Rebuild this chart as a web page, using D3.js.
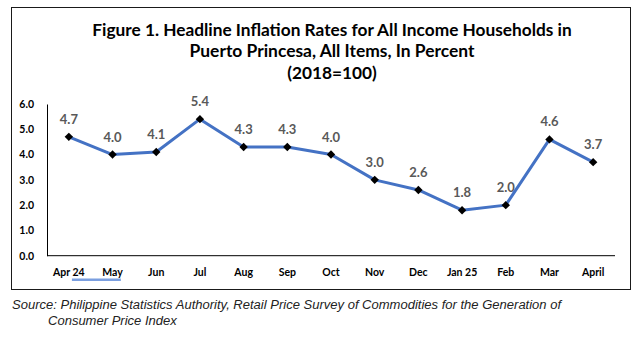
<!DOCTYPE html>
<html><head><meta charset="utf-8">
<script src="https://cdn.jsdelivr.net/npm/d3@7"></script>
<style>body{margin:0;background:#fff}</style>
</head><body>
<script>
const categories = ["Apr 24","May","Jun","Jul","Aug","Sep","Oct","Nov","Dec","Jan 25","Feb","Mar","April"];
const values = [4.7,4.0,4.1,5.4,4.3,4.3,4.0,3.0,2.6,1.8,2.0,4.6,3.7];
const yTicks = [0,1,2,3,4,5,6];
const titleLines = ["Figure 1. Headline Inflation Rates for All Income Households in","Puerto Princesa, All Items, In Percent","(2018=100)"];
const sourceLines = ["Source: Philippine Statistics Authority, Retail Price Survey of Commodities for the Generation of","Consumer Price Index"];

const W=641,H=339;
const svg=d3.select("body").append("svg").attr("width",W).attr("height",H);
svg.append("rect").attr("width",W).attr("height",H).attr("fill","#fff");
svg.append("rect").attr("x",11.5).attr("y",7.5).attr("width",619).attr("height",282)
  .attr("fill","none").attr("stroke","#1a1a1a").attr("stroke-width",1);

const font="Lato, 'Open Sans', sans-serif";
function fit(sel,target){const n=sel.node();const w=n.getComputedTextLength();const fs=parseFloat(sel.attr("font-size"));sel.attr("font-size",fs*target/w);return fs*target/w;}

const tY=[36,57,79];
let fs1=17;
titleLines.forEach((t,i)=>{
  const s=svg.append("text").attr("x",332).attr("y",tY[i]).attr("text-anchor","middle")
    .attr("font-family",font).attr("font-weight","bold").attr("font-size",17).attr("fill","#000").text(t);
  if(i===0) fs1=fit(s,480);
  else if(i===1) fit(s,285);
  else s.attr("font-size",fs1);
});

const x=d3.scaleBand().domain(categories).range([47,615]);
const y=d3.scaleLinear().domain([0,6]).range([255.7,104]);

const yAxis=svg.append("g").attr("transform","translate(47,0)")
  .call(d3.axisLeft(y).tickValues(yTicks).tickFormat(d3.format(".1f")).tickSize(0).tickPadding(13));
yAxis.select(".domain").attr("stroke","#000").attr("stroke-width",1);
yAxis.selectAll("text").attr("font-family",font).attr("font-weight","bold").attr("font-size",10.5).attr("fill","#000");

const xAxis=svg.append("g").attr("transform","translate(0,255.7)")
  .call(d3.axisBottom(x).tickSize(0).tickPadding(13));
xAxis.select(".domain").attr("stroke","#000").attr("stroke-width",1).attr("d","M47,0H615");
xAxis.selectAll("text").attr("font-family",font).attr("font-weight","bold").attr("font-size",10.5).attr("fill","#000");

// stray blue underline artifact
svg.append("rect").attr("x",x("Apr 24")+x.bandwidth()*0.57).attr("y",278.5).attr("width",x.bandwidth()*1.12).attr("height",2.5).attr("fill","#7b9fe0");

const cx=d=>x(d)+x.bandwidth()/2;
const line=d3.line().x((d,i)=>cx(categories[i])).y(d=>y(d));
svg.append("path").datum(values).attr("d",line).attr("fill","none").attr("stroke","#4472C4").attr("stroke-width",3).attr("stroke-linejoin","round");

svg.selectAll(".pt").data(values).enter().append("path")
  .attr("d",d3.symbol().type(d3.symbolDiamond2).size(45))
  .attr("transform",(d,i)=>`translate(${cx(categories[i])},${y(d)})`).attr("fill","#000");

svg.selectAll(".lbl").data(values).enter().append("text")
  .attr("x",(d,i)=>cx(categories[i])).attr("y",d=>y(d)-13).attr("text-anchor","middle")
  .attr("font-family",font).attr("font-weight","bold").attr("font-size",13).attr("fill","#595959")
  .text(d=>d3.format(".1f")(d));

const sf="'Liberation Sans', Arial, sans-serif";
const s1=svg.append("text").attr("x",12).attr("y",309).attr("font-family",sf).attr("font-style","italic").attr("font-size",12.5).attr("fill","#222").text(sourceLines[0]);
fit(s1,550);
svg.append("text").attr("x",48).attr("y",325).attr("font-family",sf).attr("font-style","italic").attr("font-size",s1.attr("font-size")).attr("fill","#222").text(sourceLines[1]);
</script>
</body></html>
